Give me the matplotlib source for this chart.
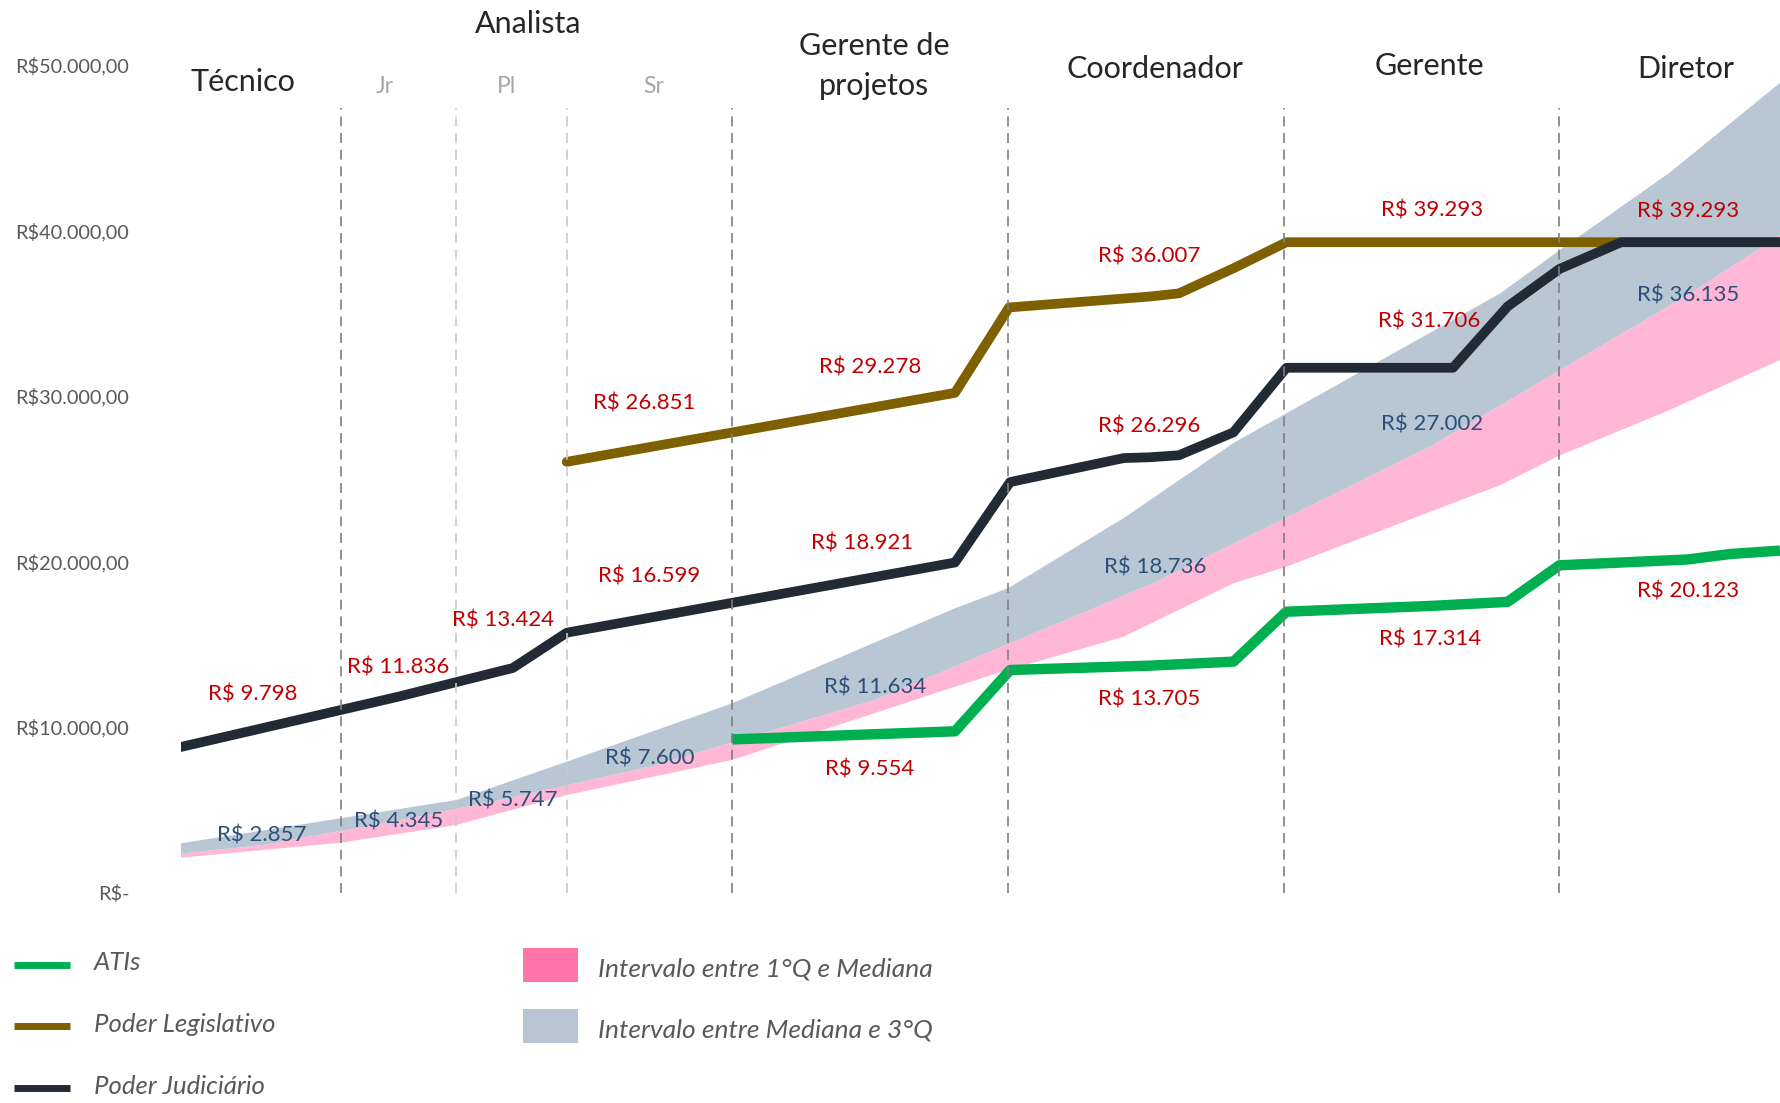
import matplotlib.pyplot as plt
from matplotlib.patches import Rectangle

plt.rcParams['font.family'] = ['Lato', 'DejaVu Sans']

# career bands on the x axis
limites = [2.9, 5.0, 7.0, 10.0, 15.0, 20.0, 25.0]
limites_fracos = [5.0, 7.0]   # Jr / Pl / Sr splits inside Analista

cargos = ["Técnico", "Analista", "Gerente de\nprojetos", "Coordenador", "Gerente", "Diretor"]
niveis = ["Jr", "Pl", "Sr"]

# Poder Judiciário
jud_x = [0, 1.31, 3.95, 5.85, 6.02, 7.0, 8.5, 12.35, 14.04, 15.04, 17.1, 17.56, 18.1,
         19.09, 20.05, 22.63, 23.07, 24.06, 25.0, 26.12, 27.33, 29]
jud_y = [8790, 9798, 11836, 13424, 13560, 15699, 16599, 18921, 19940, 24800, 26250, 26296, 26420,
         27805, 31706, 31706, 31706, 35408, 37674, 39293, 39293, 39293]
jud_lbl = [1, 2, 3, 6, 7, 11, 15, 20]

# Poder Legislativo
leg_x = [7.0, 8.4, 12.5, 14.04, 15.02, 17.56, 18.1, 19.09, 20.05, 22.69, 29]
leg_y = [26022, 26851, 29278, 30190, 35350, 36007, 36200, 37716, 39293, 39293, 39293]
leg_lbl = [1, 2, 5, 9]

# ATIs
ati_x = [10.0, 12.5, 14.04, 15.04, 17.56, 19.09, 20.05, 22.66, 24.06, 25.0, 27.33, 28.1, 29]
ati_y = [9250, 9554, 9740, 13444, 13705, 13950, 16967, 17314, 17560, 19770, 20123, 20453, 20659]
ati_lbl = [1, 4, 7, 10]

# market quartiles
med_x = [0, 1.47, 3.95, 6.02, 8.51, 12.59, 17.67, 22.69, 27.34, 29]
med_y = [2350, 2857, 4345, 5747, 7600, 11634, 18736, 27002, 36135, 39700]
med_lbl = [1, 2, 3, 4, 5, 6, 7, 8]

q_x = [0, 2.9, 5, 7, 10, 14.04, 15, 17.1, 19.09, 20.05, 23.93, 25, 27, 29]
q1_y = [2103, 3009, 4079, 5891, 8006, 12436, 13444, 15456, 18682, 19686, 24622, 26400, 29154, 32175]
q3_y = [2973, 4483, 5589, 7903, 11432, 17172, 18381, 22628, 27160, 28955, 36205, 38800, 43500, 48920]

yticks = [0, 10000, 20000, 30000, 40000, 50000]
ylabels = ["R$-", "R$10.000,00", "R$20.000,00", "R$30.000,00", "R$40.000,00", "R$50.000,00"]

# label placement (offsets in points)
cargos_pos = [(1.13, 48990), (6.3, 52500), (12.58, 49950), (17.66, 49750), (22.64, 49950), (27.3, 49750)]
niveis_pos = [(3.7, 48700), (5.9, 48700), (8.58, 48700)]
jud_dy = [26, 21, 36, 30, 26, 22, 33, 22]
leg_dy = [32, 29, 29, 23]
ati_dy = [-25, -24, -24, -23]
med_dy = [7, -1, -2, 6, 9, 11, 15, -1]

verde = "#00B050"
marrom = "#7F6000"
azul_esc = "#222A35"
rosa = "#FFB7D5"
cinza = "#B9C6D4"
vermelho = "#C00000"
azul = "#2C4F78"


def reais(v):
    return "R$ {:,}".format(v).replace(",", ".")


fig = plt.figure(figsize=(17.8, 11.03), dpi=100)
ax = fig.add_axes([180.7 / 1780, 210.5 / 1103, (1780 - 180.7) / 1780, (892.5 - 65) / 1103])
ax.set_xlim(0, 29)
ax.set_ylim(0, 50000)

# bands: Q1-median pink, median-Q3 grey
ax.fill(q_x + med_x[::-1], q1_y + med_y[::-1], color=rosa, lw=0, zorder=1)
ax.fill(q_x + med_x[::-1], q3_y + med_y[::-1], color=cinza, lw=0, zorder=1)

ax.plot(leg_x, leg_y, color=marrom, lw=7, solid_capstyle='round', solid_joinstyle='round', zorder=3)
ax.plot(jud_x, jud_y, color=azul_esc, lw=7, solid_capstyle='round', solid_joinstyle='round', zorder=4)
ax.plot(ati_x, ati_y, color=verde, lw=7.5, solid_capstyle='butt', solid_joinstyle='round', zorder=5)

for b in limites:
    c = "#C8C8C8" if b in limites_fracos else "#7F7F7F"
    ax.plot([b, b], [0, 47400], color=c, lw=1.2, dashes=(6, 4), zorder=6)

for xs, ys, idx, dys, cor in [(jud_x, jud_y, jud_lbl, jud_dy, vermelho),
                              (leg_x, leg_y, leg_lbl, leg_dy, vermelho),
                              (ati_x, ati_y, ati_lbl, ati_dy, vermelho),
                              (med_x, med_y, med_lbl, med_dy, azul)]:
    for i, dy in zip(idx, dys):
        ax.annotate(reais(ys[i]), (xs[i], ys[i]), xytext=(0, dy), textcoords='offset points',
                    ha='center', va='center', color=cor, fontsize=16, zorder=7)

for nome, (x, y) in zip(cargos, cargos_pos):
    ax.text(x, y, nome, ha='center', va='center', fontsize=22, color='#262626',
            linespacing=1.55, clip_on=False)
for nome, (x, y) in zip(niveis, niveis_pos):
    ax.text(x, y, nome, ha='center', va='center', fontsize=16.5, color='#A6A6A6', clip_on=False)

ax.set_xticks([])
ax.set_yticks(yticks)
ax.set_yticklabels(ylabels)
ax.tick_params(axis='y', length=0, pad=37, labelsize=14.3, labelcolor='#595959')
for s in ax.spines.values():
    s.set_visible(False)

# legend drawn in pixel coordinates
lg = fig.add_axes([0, 0, 1, 1])
lg.set_xlim(0, 1780)
lg.set_ylim(1103, 0)
lg.axis('off')
for y, cor, nome in [(965, verde, "ATIs"), (1026, marrom, "Poder Legislativo"),
                     (1088, azul_esc, "Poder Judiciário")]:
    lg.plot([14, 70], [y, y], color=cor, lw=5, solid_capstyle='butt')
    lg.text(94, y - 2, nome, ha='left', va='center', fontsize=18.5, style='italic', color='#595959')
for y, cor, nome in [(965, "#FF74A9", "Intervalo entre 1°Q e Mediana"),
                     (1026, "#B8C4D2", "Intervalo entre Mediana e 3°Q")]:
    lg.add_patch(Rectangle((523, y - 17), 55, 34, color=cor, lw=0))
    lg.text(598, y + 4, nome, ha='left', va='center', fontsize=19, style='italic', color='#595959')

fig.savefig("out.png", dpi=100)
